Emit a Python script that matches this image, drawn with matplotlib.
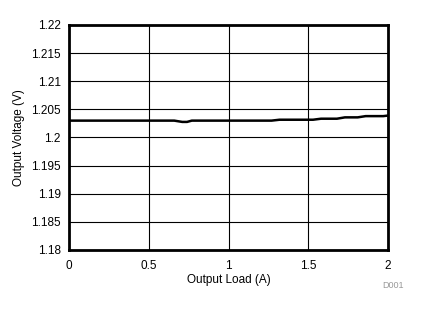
import matplotlib
matplotlib.use("Agg")
import matplotlib.pyplot as plt

# Data
load = [0.0, 0.5, 0.66, 0.71, 0.74, 0.77, 1.0, 1.27, 1.32, 1.53, 1.58, 1.68, 1.73, 1.81, 1.86, 1.97, 2.0]
vout = [1.2030, 1.2030, 1.2030, 1.20277, 1.20277, 1.2030, 1.2030, 1.2030, 1.20316, 1.20316,
        1.20334, 1.20334, 1.20358, 1.20358, 1.2038, 1.2038, 1.2039]

xticks = [0, 0.5, 1, 1.5, 2]
xticklabels = ["0", "0.5", "1", "1.5", "2"]
yticks = [1.18, 1.185, 1.19, 1.195, 1.2, 1.205, 1.21, 1.215, 1.22]
yticklabels = ["1.18", "1.185", "1.19", "1.195", "1.2", "1.205", "1.21", "1.215", "1.22"]

plt.rcParams['font.family'] = ['Liberation Sans', 'DejaVu Sans']

fig = plt.figure(figsize=(4.21, 3.12), dpi=100)
ax = fig.add_axes([69 / 421, 1 - 250 / 312, 319 / 421, 225 / 312])

ax.plot(load, vout, color="black", linewidth=1.8, zorder=3)

ax.set_xlim(0, 2)
ax.set_ylim(1.18, 1.22)
ax.set_xticks(xticks)
ax.set_xticklabels(xticklabels)
ax.set_yticks(yticks)
ax.set_yticklabels(yticklabels)
ax.tick_params(axis="x", length=0, labelsize=8.5, pad=7, colors="black")
ax.tick_params(axis="y", length=0, labelsize=8.5, pad=6, colors="black")
ax.grid(True, color="black", linewidth=0.8)
for s in ax.spines.values():
    s.set_linewidth(2)
    s.set_color("black")

ax.set_xlabel("Output Load (A)", fontsize=8.5, labelpad=2)
ax.set_ylabel("Output Voltage (V)", fontsize=8.5, labelpad=4)

fig.text(393 / 421, 1 - 285 / 312, "D001", fontsize=6.5, color="#999999", ha="center", va="center")

fig.savefig("out.png", dpi=100)
